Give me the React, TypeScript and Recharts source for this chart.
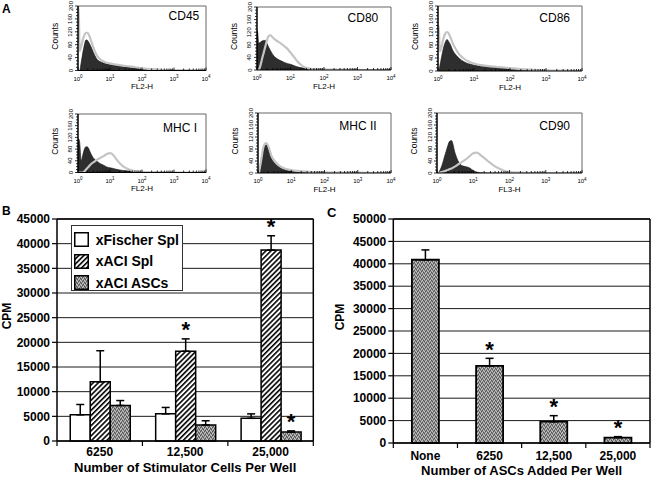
import React from 'react';
import {
  ComposedChart, Area, Line, XAxis, YAxis, ReferenceLine, BarChart, Bar, ErrorBar,
  CartesianGrid, LabelList, Legend, Label,
} from 'recharts';

const FONT = "'Liberation Sans', Arial, Helvetica, sans-serif";

// ---------- Panel A: flow cytometry histograms (x = log10 fluorescence) ----------
const LOG_FL = [0, 0.02, 0.05, 0.1, 0.15, 0.2, 0.25, 0.3, 0.35, 0.4, 0.5, 0.6, 0.7, 0.8, 0.9, 1.0, 1.1, 1.2, 1.4, 1.6, 1.8, 2.0, 2.3, 2.6, 3.0, 3.5, 4.0];
const LOG_MAJOR = [0, 1, 2, 3, 4];
const COUNT_TICKS = [0, 10, 20, 30, 40, 50, 60, 70, 80, 90, 100, 110, 120, 130, 140, 150, 160, 170, 180, 190, 200];

const CD45_ISO = [0, 0, 0, 25, 55, 80, 95, 93, 85, 75, 52, 34, 27, 23, 20, 18, 16, 15, 13, 11, 8, 6, 3, 2, 1, 1, 0];
const CD45_STAIN = [200, 200, 60, 75, 95, 110, 117, 117, 108, 95, 66, 45, 34, 28, 24, 22, 20, 18, 15, 13, 10, 7, 4, 2, 1, 1, 0];
const CD80_ISO = [126, 120, 85, 88, 92, 94, 94, 84, 72, 62, 45, 36, 30, 25, 21, 18, 14, 10, 6, 4, 3, 2, 1, 1, 1, 0, 0];
const CD80_STAIN = [0, 0, 0, 13, 35, 55, 75, 95, 108, 110, 100, 92, 85, 77, 68, 55, 42, 28, 10, 4, 2, 1, 1, 1, 0, 0, 0];
const CD86_ISO = [0, 0, 15, 44, 70, 88, 97, 90, 80, 66, 49, 38, 30, 24, 21, 18, 16, 15, 13, 11, 9, 8, 5, 3, 2, 1, 0];
const CD86_STAIN = [140, 140, 60, 75, 100, 115, 120, 115, 102, 88, 66, 50, 40, 32, 27, 23, 20, 18, 15, 13, 11, 9, 6, 4, 2, 1, 0];
const MHC1_ISO = [115, 115, 105, 40, 60, 80, 88, 87, 78, 65, 47, 38, 30, 25, 19, 16, 14, 11, 7, 5, 3, 2, 1, 1, 0, 0, 0];
const MHC1_STAIN = [0, 0, 0, 0, 0, 4, 10, 16, 22, 28, 36, 44, 50, 56, 63, 66, 60, 45, 22, 10, 4, 2, 1, 1, 0, 0, 0];
const MHC2_ISO = [0, 0, 8, 38, 72, 90, 94, 86, 70, 52, 35, 24, 17, 13, 10, 8, 7, 6, 4, 3, 2, 2, 1, 1, 1, 0, 0];
const MHC2_STAIN = [0, 0, 14, 46, 80, 97, 100, 92, 76, 58, 40, 28, 20, 15, 12, 10, 8, 7, 5, 3, 2, 2, 1, 1, 1, 0, 0];
const CD90_ISO = [0, 0, 3, 14, 30, 52, 72, 92, 106, 108, 66, 36, 24, 21, 17, 8, 3, 1, 0, 0, 0, 0, 0, 0, 0, 0, 0];
const CD90_STAIN = [0, 0, 0, 2, 4, 6, 8, 10, 13, 15, 22, 30, 38, 46, 56, 66, 68, 60, 40, 22, 10, 3, 1, 0, 0, 0, 0];

const MARKERS = ['CD45', 'CD80', 'CD86', 'MHC I', 'MHC II', 'CD90'];
const CHANNELS = ['FL2-H', 'FL2-H', 'FL2-H', 'FL2-H', 'FL2-H', 'FL3-H'];
const ISO_SERIES = [CD45_ISO, CD80_ISO, CD86_ISO, MHC1_ISO, MHC2_ISO, CD90_ISO];
const STAIN_SERIES = [CD45_STAIN, CD80_STAIN, CD86_STAIN, MHC1_STAIN, MHC2_STAIN, CD90_STAIN];

// ---------- Panel B ----------
const STIM_CATS = ['6250', '12,500', '25,000'];
const FISCHER_CPM = [5300, 5500, 4600];
const FISCHER_ERR = [2100, 1300, 900];
const ACI_SPL_CPM = [12000, 18200, 38700];
const ACI_SPL_ERR = [6300, 2500, 2900];
const ACI_ASC_CPM = [7200, 3250, 1800];
const ACI_ASC_ERR = [1000, 850, 250];
const FISCHER_SIG = [false, false, false];
const ACI_SPL_SIG = [false, true, true];
const ACI_ASC_SIG = [false, false, true];
const B_Y_TICKS = [0, 5000, 10000, 15000, 20000, 25000, 30000, 35000, 40000, 45000];

// ---------- Panel C ----------
const ASC_CATS = ['None', '6250', '12,500', '25,000'];
const ASC_CPM = [40900, 17200, 4750, 1200];
const ASC_ERR = [2200, 1700, 1350, 220];
const ASC_SIG = [false, true, true, true];
const C_Y_TICKS = [0, 5000, 10000, 15000, 20000, 25000, 30000, 35000, 40000, 45000, 50000];

// ---------- layout (not data) ----------
const HISTO_BOXES = [
  { l: 78, t: 6, r: 206, b: 70.5, nx: 199.3, ny: 20 },
  { l: 257, t: 6.5, r: 391, b: 69.5, nx: 378.3, ny: 21.5 },
  { l: 438, t: 6, r: 582, b: 71, nx: 570, ny: 21.5 },
  { l: 78, t: 114, r: 206, b: 172.5, nx: 197, ny: 131.5 },
  { l: 258, t: 113, r: 391, b: 173, nx: 376.7, ny: 130 },
  { l: 437, t: 113, r: 582, b: 173, nx: 570, ny: 130 },
];

const renderLogTick = (p: any) => {
  const v = Number(p.payload.value);
  const major = Math.abs(v - Math.round(v)) < 1e-9;
  const x = Number(p.x);
  const y = Number(p.y);
  return (
    <g>
      <line x1={x} x2={x} y1={y} y2={y - (major ? 3 : 2)} stroke="#000" strokeWidth={0.8} />
      {major && (
        <text x={x} y={y + 10} textAnchor="middle" fontSize={6} fill="#000" fontFamily={FONT}>
          10<tspan dy={-2.5} fontSize={4.5}>{Math.round(v)}</tspan>
        </text>
      )}
    </g>
  );
};

const renderCountTick = (p: any) => {
  const v = Number(p.payload.value);
  const major = v % 40 === 0;
  const x = Number(p.x);
  const y = Number(p.y);
  const tx = x - 5.5;
  return (
    <g>
      <line x1={x} x2={x - (major ? 3 : 2)} y1={y} y2={y} stroke="#000" strokeWidth={0.8} />
      {major && (
        <text x={tx} y={y} transform={`rotate(-90 ${tx} ${y})`} textAnchor="middle" fontSize={6} fill="#000" fontFamily={FONT}>
          {v}
        </text>
      )}
    </g>
  );
};

function Histo({ idx }: { idx: number }) {
  const box = HISTO_BOXES[idx];
  const YW = 30, XH = 25, MT = 5, MR = 5;
  const w = box.r - box.l;
  const h = box.b - box.t;
  const iso = ISO_SERIES[idx];
  const stain = STAIN_SERIES[idx];
  const data = LOG_FL.map((x, i) => ({ x, iso: iso[i], stain: stain[i] }));
  const xTicks = [
    ...LOG_MAJOR,
    ...[0, 1, 2, 3].flatMap((d) => [2, 3, 4, 5, 6, 7, 8, 9].map((k) => d + Math.log10(k))),
  ];
  return (
    <div style={{ position: 'absolute', left: box.l - YW, top: box.t - MT }}>
      <ComposedChart width={w + YW + MR} height={h + MT + XH} data={data} margin={{ top: MT, right: MR, left: 0, bottom: 0 }}>
        <XAxis
          dataKey="x" type="number" domain={[0, 4]} ticks={xTicks} interval={0} height={XH}
          tickSize={0} tickMargin={0} tickLine={false} allowDataOverflow
          axisLine={{ stroke: '#000', strokeWidth: 1.2 }} tick={renderLogTick}
        >
          <Label
            content={(lp: any) => {
              const vb = lp.viewBox || {};
              return (
                <text x={vb.x + vb.width / 2} y={vb.y + 18.5} textAnchor="middle" fontSize={8} fill="#000" fontFamily={FONT}>
                  {CHANNELS[idx]}
                </text>
              );
            }}
          />
        </XAxis>
        <YAxis
          type="number" domain={[0, 200]} ticks={COUNT_TICKS} interval={0} width={YW}
          tickSize={0} tickMargin={0} tickLine={false} allowDataOverflow
          axisLine={{ stroke: '#000', strokeWidth: 1.5 }} tick={renderCountTick}
        >
          <Label
            content={(lp: any) => {
              const vb = lp.viewBox || {};
              const cx = vb.x + vb.width - 20;
              const cy = vb.y + vb.height / 2 - 2;
              return (
                <text x={cx} y={cy} transform={`rotate(-90 ${cx} ${cy})`} textAnchor="middle" fontSize={8.5} fill="#000" fontFamily={FONT}>
                  Counts
                </text>
              );
            }}
          />
        </YAxis>
        <Area type="monotone" dataKey="iso" fill="#2e2e2e" fillOpacity={1} stroke="#111" strokeWidth={0.6} dot={false} activeDot={false} isAnimationActive={false} />
        <Line type="monotone" dataKey="stain" stroke="#c4c4c4" strokeWidth={2.2} dot={false} activeDot={false} isAnimationActive={false} />
        <ReferenceLine y={200} stroke="#666" strokeWidth={1} />
        <ReferenceLine x={4} stroke="#666" strokeWidth={1} />
      </ComposedChart>
    </div>
  );
}

// ---------- bar helpers ----------
const makeCatTick = (band: number, n: number, dy: number) => (p: any) => {
  const x = Number(p.x);
  const y = Number(p.y);
  const i = p.index ?? p.payload?.index ?? 0;
  return (
    <g>
      <line x1={x - band / 2} x2={x - band / 2} y1={y} y2={y + 5} stroke="#000" strokeWidth={1.2} />
      {i === n - 1 && <line x1={x + band / 2} x2={x + band / 2} y1={y} y2={y + 5} stroke="#000" strokeWidth={1.2} />}
      <text x={x} y={y + dy} textAnchor="middle" fontSize={12} fontWeight="bold" fill="#000" fontFamily={FONT}>
        {p.payload.value}
      </text>
    </g>
  );
};

const makeStar = (vals: number[], errs: number[], sig: boolean[]) => (p: any) => {
  const i = p.index;
  if (i === undefined || !sig[i]) return null;
  const vb = p.viewBox && p.viewBox.width !== undefined ? p.viewBox : p;
  const x = Number(vb.x), y = Number(vb.y), w = Number(vb.width), h = Number(vb.height);
  const pxPerUnit = vals[i] ? h / vals[i] : 0;
  const top = y - errs[i] * pxPerUnit;
  return (
    <text x={x + w / 2} y={top - 1.5} textAnchor="middle" fontSize={22} fontWeight="bold" fill="#000" fontFamily={FONT}>
      *
    </text>
  );
};

const cpmLabel = (bx: number) => (lp: any) => {
  const vb = lp.viewBox || {};
  const cy = vb.y + vb.height / 2 - 14;
  return (
    <text x={bx} y={cy} transform={`rotate(-90 ${bx} ${cy})`} textAnchor="middle" fontSize={12} fontWeight="bold" fill="#000" fontFamily={FONT}>
      CPM
    </text>
  );
};

const xTitle = (text: string, dy: number) => (lp: any) => {
  const vb = lp.viewBox || {};
  return (
    <text x={vb.x + vb.width / 2} y={vb.y + dy} textAnchor="middle" fontSize={13} fontWeight="bold" fill="#000" fontFamily={FONT}>
      {text}
    </text>
  );
};

const B_SERIES = [
  { key: 'fis', name: 'xFischer Spl', fill: '#ffffff' },
  { key: 'aci', name: 'xACI Spl', fill: 'url(#hatchFill)' },
  { key: 'asc', name: 'xACI ASCs', fill: 'url(#speckleFill)' },
];

const renderLegend = (props: any) => {
  const payload = props.payload || [];
  return (
    <div style={{ width: 112, height: 66, border: '1px solid #333', background: '#fff', boxSizing: 'border-box', paddingTop: 3, fontFamily: FONT }}>
      {B_SERIES.map((s) => {
        const e = payload.find((q: any) => q.dataKey === s.key);
        return (
          <div key={s.key} style={{ display: 'flex', alignItems: 'center', height: 21.5 }}>
            <svg width={15} height={15} style={{ marginLeft: 2, display: 'block' }}>
              <rect x={0.75} y={0.75} width={13.5} height={13.5} fill={s.fill} stroke="#000" strokeWidth={1.5} />
            </svg>
            <span style={{ marginLeft: 7, fontSize: 14, fontWeight: 'bold', color: '#000', whiteSpace: 'nowrap' }}>
              {e ? e.value : s.name}
            </span>
          </div>
        );
      })}
    </div>
  );
};

function PanelB() {
  const data = STIM_CATS.map((c, i) => ({
    cat: c,
    fis: FISCHER_CPM[i], fisErr: [0, FISCHER_ERR[i]],
    aci: ACI_SPL_CPM[i], aciErr: [0, ACI_SPL_ERR[i]],
    asc: ACI_ASC_CPM[i], ascErr: [0, ACI_ASC_ERR[i]],
  }));
  const W = 330, H = 272, ML = 7, MR = 16.7, YW = 50;
  const band = (W - ML - MR - YW) / STIM_CATS.length;
  return (
    <div style={{ position: 'absolute', left: 0, top: 205 }}>
      <BarChart width={W} height={H} data={data} margin={{ top: 14, right: MR, left: ML, bottom: 0 }} barGap={0} barCategoryGap="15.5%">
        <CartesianGrid vertical={false} stroke="#000" strokeWidth={0.9} />
        <XAxis dataKey="cat" height={36} interval={0} tickSize={0} tickMargin={0} tickLine={false}
          axisLine={{ stroke: '#000', strokeWidth: 1.5 }} tick={makeCatTick(band, STIM_CATS.length, 14.5)}>
          <Label content={xTitle('Number of Stimulator Cells Per Well', 31)} />
        </XAxis>
        <YAxis domain={[0, 45000]} ticks={B_Y_TICKS} interval={0} width={YW} tickSize={5} tickMargin={2}
          tickLine={{ stroke: '#000', strokeWidth: 1.2 }} axisLine={{ stroke: '#000', strokeWidth: 1.5 }}
          tick={{ fontSize: 12, fontWeight: 'bold', fill: '#000', fontFamily: FONT }}>
          <Label content={cpmLabel(10.5)} />
        </YAxis>
        <ReferenceLine y={45000} stroke="#000" strokeWidth={1.5} />
        <ReferenceLine x={STIM_CATS[STIM_CATS.length - 1]} position="end" stroke="#000" strokeWidth={1.5} />
        <Legend layout="vertical" align="center" verticalAlign="middle" content={renderLegend}
          wrapperStyle={{ left: 70.7, top: 20, width: 112, height: 66 }} />
        <Bar dataKey="fis" name="xFischer Spl" fill={B_SERIES[0].fill} stroke="#000" strokeWidth={1.5} isAnimationActive={false}>
          <ErrorBar dataKey="fisErr" width={4} stroke="#000" strokeWidth={1.5} direction="y" isAnimationActive={false} />
          <LabelList content={makeStar(FISCHER_CPM, FISCHER_ERR, FISCHER_SIG)} />
        </Bar>
        <Bar dataKey="aci" name="xACI Spl" fill={B_SERIES[1].fill} stroke="#000" strokeWidth={1.5} isAnimationActive={false}>
          <ErrorBar dataKey="aciErr" width={4} stroke="#000" strokeWidth={1.5} direction="y" isAnimationActive={false} />
          <LabelList content={makeStar(ACI_SPL_CPM, ACI_SPL_ERR, ACI_SPL_SIG)} />
        </Bar>
        <Bar dataKey="asc" name="xACI ASCs" fill={B_SERIES[2].fill} stroke="#000" strokeWidth={1.5} isAnimationActive={false}>
          <ErrorBar dataKey="ascErr" width={4} stroke="#000" strokeWidth={1.5} direction="y" isAnimationActive={false} />
          <LabelList content={makeStar(ACI_ASC_CPM, ACI_ASC_ERR, ACI_ASC_SIG)} />
        </Bar>
      </BarChart>
    </div>
  );
}

function PanelC() {
  const data = ASC_CATS.map((c, i) => ({ cat: c, cpm: ASC_CPM[i], err: [0, ASC_ERR[i]] }));
  const W = 330, H = 272, ML = 18.3, MR = 5, YW = 50;
  const band = (W - ML - MR - YW) / ASC_CATS.length;
  return (
    <div style={{ position: 'absolute', left: 325, top: 205 }}>
      <BarChart width={W} height={H} data={data} margin={{ top: 14, right: MR, left: ML, bottom: 0 }} barCategoryGap="29%">
        <CartesianGrid vertical={false} stroke="#000" strokeWidth={0.9} />
        <XAxis dataKey="cat" height={34} interval={0} tickSize={0} tickMargin={0} tickLine={false}
          axisLine={{ stroke: '#000', strokeWidth: 1.5 }} tick={makeCatTick(band, ASC_CATS.length, 17)}>
          <Label content={xTitle('Number of ASCs Added Per Well', 32)} />
        </XAxis>
        <YAxis domain={[0, 50000]} ticks={C_Y_TICKS} interval={0} width={YW} tickSize={5} tickMargin={2}
          tickLine={{ stroke: '#000', strokeWidth: 1.2 }} axisLine={{ stroke: '#000', strokeWidth: 1.5 }}
          tick={{ fontSize: 12, fontWeight: 'bold', fill: '#000', fontFamily: FONT }}>
          <Label content={cpmLabel(18.5)} />
        </YAxis>
        <ReferenceLine y={50000} stroke="#000" strokeWidth={1.5} />
        <ReferenceLine x={ASC_CATS[ASC_CATS.length - 1]} position="end" stroke="#000" strokeWidth={1.5} />
        <Bar dataKey="cpm" fill="url(#speckleFill)" stroke="#000" strokeWidth={1.8} isAnimationActive={false}>
          <ErrorBar dataKey="err" width={4} stroke="#000" strokeWidth={1.5} direction="y" isAnimationActive={false} />
          <LabelList content={makeStar(ASC_CPM, ASC_ERR, ASC_SIG)} />
        </Bar>
      </BarChart>
    </div>
  );
}

export default function App() {
  return (
    <div style={{ position: 'fixed', left: 0, top: 0, width: 655, height: 477, background: '#fff', overflow: 'hidden', fontFamily: FONT }}>
      <svg width={0} height={0} style={{ position: 'absolute' }}>
        <defs>
          <pattern id="hatchFill" patternUnits="userSpaceOnUse" width={3.6} height={3.6} patternTransform="rotate(45)">
            <rect width={3.6} height={3.6} fill="#fff" />
            <rect width={1.6} height={3.6} fill="#000" />
          </pattern>
          <pattern id="speckleFill" patternUnits="userSpaceOnUse" width={4} height={4}>
            <rect width={4} height={4} fill="#8e8e8e" />
            <rect x={0} y={0} width={1} height={1} fill="#c8c8c8" />
            <rect x={2} y={1} width={1} height={1} fill="#c8c8c8" />
            <rect x={1} y={3} width={1} height={1} fill="#c8c8c8" />
            <rect x={3} y={2} width={1} height={1} fill="#c8c8c8" />
            <rect x={1} y={1} width={1} height={1} fill="#505050" />
            <rect x={3} y={0} width={1} height={1} fill="#505050" />
            <rect x={0} y={2} width={1} height={1} fill="#505050" />
            <rect x={2} y={3} width={1} height={1} fill="#505050" />
          </pattern>
        </defs>
      </svg>
      {MARKERS.map((m, i) => (
        <Histo key={m} idx={i} />
      ))}
      <PanelB />
      <PanelC />
      <svg width={655} height={477} style={{ position: 'absolute', left: 0, top: 0, pointerEvents: 'none' }}>
        <text x={2} y={13} fontSize={12} fontWeight="bold" fill="#000" fontFamily={FONT}>A</text>
        <text x={2} y={215} fontSize={12} fontWeight="bold" fill="#000" fontFamily={FONT}>B</text>
        <text x={327} y={217} fontSize={13} fontWeight="bold" fill="#000" fontFamily={FONT}>C</text>
        {MARKERS.map((m, i) => (
          <text key={m} x={HISTO_BOXES[i].nx} y={HISTO_BOXES[i].ny} textAnchor="end" fontSize={12} fill="#000" fontFamily={FONT}>
            {m}
          </text>
        ))}
      </svg>
    </div>
  );
}
